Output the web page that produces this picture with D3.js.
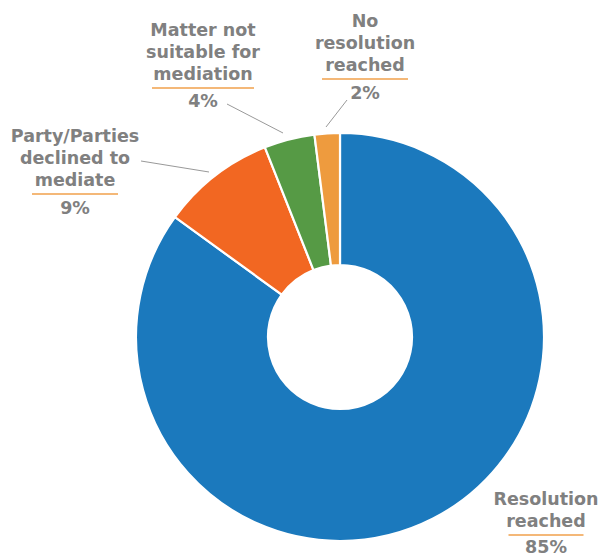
<!DOCTYPE html>
<html>
<head>
<meta charset="utf-8">
<script src="https://cdn.jsdelivr.net/npm/d3@7/dist/d3.min.js"></script>
<style>
  html, body { margin: 0; padding: 0; background: #fff; }
  svg { display: block; }
  .lbl { font-family: "DejaVu Sans", sans-serif; font-weight: bold; fill: #808080; }
</style>
</head>
<body>
<svg id="chart" width="598" height="556"></svg>
<script>
// Mediation outcomes (share of cases, %)
const categories = ["Resolution reached", "Party/Parties declined to mediate", "Matter not suitable for mediation", "No resolution reached"];
const values = [85, 9, 4, 2];
const colors = ["#1b79bd", "#f26722", "#569a45", "#ee9b3e"];

// Label text blocks: wrapped lines and the percentage shown under the rule
const labelLines = [
  ["Resolution", "reached"],
  ["Party/Parties", "declined to", "mediate"],
  ["Matter not", "suitable for", "mediation"],
  ["No", "resolution", "reached"]
];
const labelPct = values.map(v => v + "%");

// Layout of each label block: centre x, first baseline y, rule width, percent offset, leader line
const labelLayout = [
  { x: 546, y: 505, rule: 75, pct: 26, leader: null },
  { x: 75, y: 142, rule: 86, pct: 28, leader: [[141, 161], [209, 172]] },
  { x: 203, y: 36, rule: 102, pct: 27, leader: [[227, 104], [283, 133]] },
  { x: 365, y: 27, rule: 86, pct: 28, leader: [[347, 100], [326, 127]] }
];

const cx = 340, cy = 337, outerR = 204, innerR = 72;
const lineH = 22;
const fontSize = "17.5px";

const svg = d3.select("#chart");
const g = svg.append("g").attr("transform", `translate(${cx},${cy})`);

const pie = d3.pie().sort(null).value(d => d)(values);
const arc = d3.arc().innerRadius(innerR).outerRadius(outerR);

g.selectAll("path.slice")
  .data(pie)
  .join("path")
  .attr("class", "slice")
  .attr("d", arc)
  .attr("fill", (d, i) => colors[i])
  .attr("stroke", "#fff")
  .attr("stroke-width", 2.2)
  .attr("stroke-linejoin", "miter");

// Leader lines
labelLayout.forEach(L => {
  if (!L.leader) return;
  svg.append("line")
    .attr("x1", L.leader[0][0]).attr("y1", L.leader[0][1])
    .attr("x2", L.leader[1][0]).attr("y2", L.leader[1][1])
    .attr("stroke", "#999").attr("stroke-width", 1);
});

// Label blocks
labelLayout.forEach((L, i) => {
  const lines = labelLines[i];
  const grp = svg.append("g");
  lines.forEach((t, k) => {
    grp.append("text").attr("class", "lbl")
      .attr("x", L.x).attr("y", L.y + k * lineH)
      .attr("text-anchor", "middle")
      .style("font-size", fontSize)
      .text(t);
  });
  const lastBase = L.y + (lines.length - 1) * lineH;
  grp.append("line")
    .attr("x1", L.x - L.rule / 2).attr("x2", L.x + L.rule / 2)
    .attr("y1", lastBase + 8).attr("y2", lastBase + 8)
    .attr("stroke", "#f0a04b").attr("stroke-width", 1.5);
  grp.append("text").attr("class", "lbl")
    .attr("x", L.x).attr("y", lastBase + L.pct)
    .attr("text-anchor", "middle")
    .style("font-size", fontSize)
    .text(labelPct[i]);
});
</script>
</body>
</html>
